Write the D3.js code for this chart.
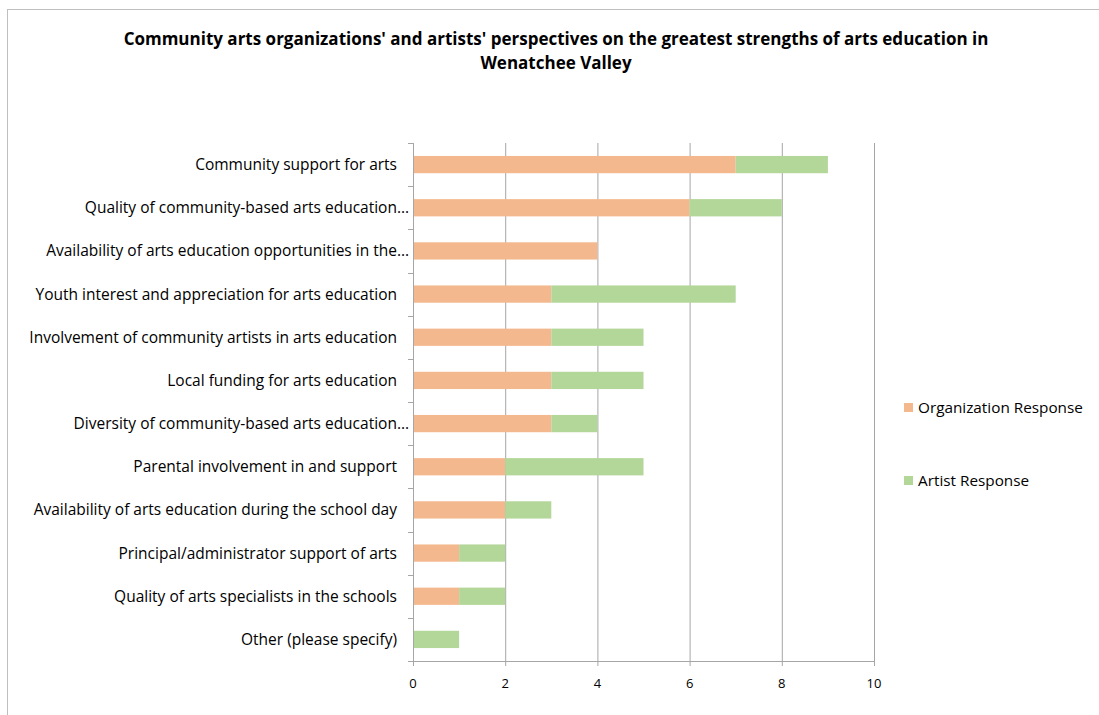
<!DOCTYPE html>
<html>
<head>
<meta charset="utf-8">
<script src="https://cdn.jsdelivr.net/npm/d3@7"></script>
<style>
  body { margin: 0; background: #fff; }
  svg { display: block; }
</style>
</head>
<body>
<svg id="chart" width="1099" height="715"></svg>
<script>
// categories, top to bottom
const categories = [
  "Community support for arts",
  "Quality of community-based arts education…",
  "Availability of arts education opportunities in the…",
  "Youth interest and appreciation for arts education",
  "Involvement of community artists in arts education",
  "Local funding for arts education",
  "Diversity of community-based arts education…",
  "Parental involvement in and support",
  "Availability of arts education during the school day",
  "Principal/administrator support of arts",
  "Quality of arts specialists in the schools",
  "Other (please specify)"
];
const orgValues    = [7, 6, 4, 3, 3, 3, 3, 2, 2, 1, 1, 0];
const artistValues = [2, 2, 0, 4, 2, 2, 1, 3, 1, 1, 1, 1];
const seriesNames  = ["Organization Response", "Artist Response"];
const xTicks = [0, 2, 4, 6, 8, 10];

const colors = ["#F4B88E", "#B3D699"];
const labelFont = "'Open Sans', sans-serif";

const svg = d3.select("#chart");

// chart border
svg.append("rect")
  .attr("x", 7.5).attr("y", 9.5)
  .attr("width", 1100).attr("height", 720)
  .attr("fill", "none")
  .attr("stroke", "#bfbfbf");

// title
const title = svg.append("text")
  .attr("text-anchor", "middle")
  .attr("font-family", labelFont)
  .attr("font-weight", "bold")
  .attr("font-size", "17px")
  .attr("fill", "#000");
title.append("tspan").attr("x", 556).attr("y", 45)
  .text("Community arts organizations' and artists' perspectives on the greatest strengths of arts education in");
title.append("tspan").attr("x", 556).attr("y", 69)
  .text("Wenatchee Valley");

const plotLeft = 413, plotRight = 874, plotTop = 143, plotBottom = 661;

const x = d3.scaleLinear().domain([0, 10]).range([plotLeft, plotRight]);
const y = d3.scaleBand().domain(categories).range([plotTop, plotBottom]).paddingInner(0.6).paddingOuter(0.3);
const band = d3.scaleBand().domain(categories).range([plotTop, plotBottom]);

// gridlines
svg.append("g")
  .selectAll("line")
  .data(xTicks.slice(1))
  .join("line")
  .attr("x1", d => x(d) + 0.5).attr("x2", d => x(d) + 0.5)
  .attr("y1", plotTop).attr("y2", plotBottom)
  .attr("stroke", "#a6a6a6");

// stacked data
const rows = categories.map((c, i) => ({ cat: c, org: orgValues[i], artist: artistValues[i] }));
const stacked = d3.stack().keys(["org", "artist"])(rows);

svg.append("g")
  .selectAll("g")
  .data(stacked)
  .join("g")
  .attr("fill", (d, i) => colors[i])
  .selectAll("rect")
  .data(d => d)
  .join("rect")
  .attr("x", d => x(d[0]))
  .attr("y", d => y(d.data.cat))
  .attr("width", d => x(d[1]) - x(d[0]))
  .attr("height", y.bandwidth());

// left axis line and ticks at band boundaries
svg.append("line")
  .attr("x1", plotLeft + 0.5).attr("x2", plotLeft + 0.5)
  .attr("y1", plotTop).attr("y2", plotBottom)
  .attr("stroke", "#a6a6a6");
const bounds = categories.map(c => band(c)).concat([plotBottom]);
svg.append("g")
  .selectAll("line")
  .data(bounds)
  .join("line")
  .attr("x1", plotLeft - 5).attr("x2", plotLeft)
  .attr("y1", d => Math.round(d) + 0.5).attr("y2", d => Math.round(d) + 0.5)
  .attr("stroke", "#a6a6a6");

// bottom axis
svg.append("line")
  .attr("x1", plotLeft).attr("x2", plotRight + 1)
  .attr("y1", plotBottom + 0.5).attr("y2", plotBottom + 0.5)
  .attr("stroke", "#a6a6a6");
svg.append("g")
  .selectAll("line")
  .data(xTicks)
  .join("line")
  .attr("x1", d => x(d) + 0.5).attr("x2", d => x(d) + 0.5)
  .attr("y1", plotBottom).attr("y2", plotBottom + 5)
  .attr("stroke", "#a6a6a6");
svg.append("g")
  .selectAll("text")
  .data(xTicks)
  .join("text")
  .attr("x", d => x(d))
  .attr("y", plotBottom + 27)
  .attr("text-anchor", "middle")
  .attr("font-family", labelFont)
  .attr("font-size", "13px")
  .attr("fill", "#000")
  .text(d => d);

// category labels
svg.append("g")
  .selectAll("text")
  .data(categories)
  .join("text")
  .attr("x", d => d.endsWith("…") ? 409 : 397)
  .attr("y", d => band(d) + band.bandwidth() / 2 + 5.5)
  .attr("text-anchor", "end")
  .attr("font-family", labelFont)
  .attr("font-size", "15.5px")
  .attr("fill", "#000")
  .text(d => d);

// legend
const legend = svg.append("g")
  .selectAll("g")
  .data(seriesNames)
  .join("g")
  .attr("transform", (d, i) => `translate(904, ${403 + i * 73})`);
legend.append("rect")
  .attr("width", 9).attr("height", 9)
  .attr("fill", (d, i) => colors[i]);
legend.append("text")
  .attr("x", 14).attr("y", 10)
  .attr("font-family", labelFont)
  .attr("font-size", "15.3px")
  .attr("fill", "#000")
  .text(d => d);
</script>
</body>
</html>
